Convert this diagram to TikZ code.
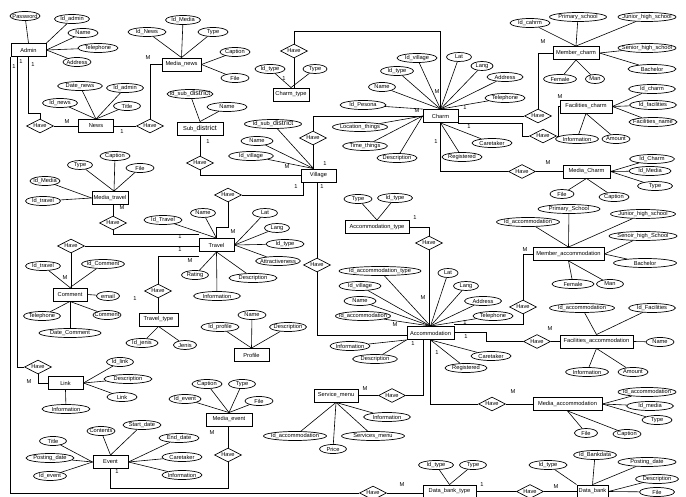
\documentclass[tikz,border=0pt]{standalone}
\usepackage{fontspec}
\setmainfont{Liberation Sans}
\usetikzlibrary{shapes.geometric}
\newcommand\bigd{\fontsize{7}{8}\selectfont}
\newcommand\AttrN[5]{\node[attr,minimum width=#4pt] (#1) at (#2,#3) {\makebox[0pt]{#5}};}
\newcommand\EntN[5]{\node[ent,minimum width=#4pt] (#1) at (#2,#3) {\makebox[0pt]{#5}};}
\newcommand\RelN[3]{\node[rel] (#1) at (#2,#3) {\makebox[0pt]{Have}};}
\newcommand\LblN[4]{\node[lbl] (#1) at (#2,#3) {#4};}
\begin{document}
\begin{tikzpicture}[x=1pt,y=-1pt,font=\fontsize{5.7}{6.5}\selectfont,
  attr/.style={draw,ellipse,line width=0.7pt,inner sep=0pt,minimum height=9pt},
  ent/.style={draw,rectangle,line width=0.9pt,inner sep=0pt,minimum height=13pt},
  rel/.style={draw,diamond,line width=0.7pt,inner sep=0pt,minimum width=27pt,minimum height=14pt},
  lbl/.style={inner sep=0pt},
  conn/.style={line width=0.6pt}]
\clip (0,0) rectangle (686,497);
\fill[white] (0,0) rectangle (686,497);
% entities
\EntN{admin}{28.5}{50}{35}{Admin}
\EntN{news}{96}{126}{35}{News}
\EntN{medianews}{181.5}{64.5}{39}{Media\_news}
\EntN{charmtype}{291}{94.5}{36}{Charm\_type}
\EntN{subdistrict}{200}{128.5}{46}{Sub\_{\bigd district}}
\EntN{village}{318.5}{175.5}{35}{Village}
\EntN{charm}{440.5}{116}{35}{Charm}
\EntN{membercharm}{576}{53}{46}{Member\_charm}
\EntN{facilitiescharm}{586}{106.5}{52}{Facilities\_charm}
\EntN{mediacharm}{586.5}{171.5}{47}{Media\_Charm}
\EntN{mediatravel}{110}{198}{36}{Media\_travel}
\EntN{travel}{216.5}{245}{35}{Travel}
\EntN{comment}{70}{294.5}{34}{Comment}
\EntN{traveltype}{158.5}{319.5}{39}{Travel\_type}
\EntN{profile}{251.5}{355}{35}{Profile}
\EntN{acctype}{377}{227}{64}{Accommodation\_type}
\EntN{acc}{430.5}{333}{47}{Accommodation}
\EntN{memberacc}{568.5}{254}{71}{Member\_accommodation}
\EntN{facacc}{596.5}{341.5}{73}{Facilities\_accommodation}
\EntN{servicemenu}{336}{395.5}{44}{Service\_menu}
\EntN{mediaacc}{567.5}{404}{69}{Media\_accommodation}
\EntN{link}{65.5}{383}{35}{Link}
\EntN{event}{110.5}{462}{35}{Event}
\EntN{mediaevent}{229}{419.5}{46}{Media\_event}
\EntN{dbtype}{449.5}{491.5}{53}{Data\_bank\_type}
\EntN{databank}{592.5}{491.5}{31}{Data\_bank}
% relationships
\RelN{hn}{40}{126}
\RelN{hmn}{150}{126}
\RelN{hct}{294}{51}
\RelN{hsd}{200}{163}
\RelN{hvc}{313}{138}
\RelN{hmc}{538}{116}
\RelN{hfc}{543}{136}
\RelN{hmch}{522}{171.5}
\RelN{hmt}{113}{223}
\RelN{htv}{228}{195}
\RelN{hcm}{71}{246}
\RelN{htt}{158}{291}
\RelN{hat}{429}{243}
\RelN{hva}{317}{265}
\RelN{hma}{523}{307}
\RelN{hfa}{537}{341.5}
\RelN{hsm}{392}{395.5}
\RelN{hmac}{492}{404}
\RelN{hlk}{38}{367}
\RelN{hme}{228}{455}
\RelN{hdbt}{373}{493}
\RelN{hdb}{530}{491.5}
% attributes
\AttrN{apw}{25}{16}{30}{Password}
\AttrN{aida}{72}{19}{35}{Id\_admin}
\AttrN{aname}{83}{33}{30}{Name}
\AttrN{atel}{98}{48}{40}{Telephone}
\AttrN{aaddr}{77}{62}{28}{Address}
\AttrN{ndate}{80}{86}{45}{Date\_news}
\AttrN{nida}{125}{88}{37}{Id\_admin}
\AttrN{nidn}{60}{103}{35}{Id\_news}
\AttrN{ntitle}{127}{106}{27}{Title}
\AttrN{mnidn}{147}{32}{38}{Id\_News}
\AttrN{mnidm}{183}{20}{35}{Id\_Media}
\AttrN{mntype}{213}{32}{30}{Type}
\AttrN{mncap}{235}{52}{30}{Caption}
\AttrN{mnfile}{235}{78}{28}{File}
\AttrN{ctid}{270}{69}{30}{Id\_type}
\AttrN{cttype}{315}{69}{24}{Type}
\AttrN{sdid}{190}{94}{46}{Id\_sub\_{\bigd district}}
\AttrN{sdname}{227}{107}{40}{Name}
\AttrN{vidsd}{273}{124}{57}{Id\_sub\_{\bigd district}}
\AttrN{vname}{257}{141}{32}{Name}
\AttrN{vid}{251}{156}{45}{Id\_village}
\AttrN{cidv}{417}{58}{40}{Id\_village}
\AttrN{clat}{459}{57}{25}{Lat}
\AttrN{cidt}{397}{71}{33}{Id\_type}
\AttrN{clang}{482}{66}{22}{Lang}
\AttrN{caddr}{505}{77}{36}{Address}
\AttrN{cname}{382}{87}{27}{Name}
\AttrN{ctel}{505}{98}{40}{Telephone}
\AttrN{cidp}{363}{105}{46}{Id\_Pesona}
\AttrN{cloc}{360}{127}{55}{Location\_things}
\AttrN{ctime}{365}{146}{45}{Time\_things}
\AttrN{cdesc}{397}{158}{40}{Description}
\AttrN{ccare}{492}{143}{40}{Caretaker}
\AttrN{creg}{462}{157}{40}{Registered}
\AttrN{mcid}{530}{23}{40}{Id\_cahrm}
\AttrN{mcps}{578}{17}{57}{Primary\_school}
\AttrN{mcjh}{647}{17}{58}{Junior\_high\_school}
\AttrN{mcsh}{647}{48}{58}{Senior\_high\_school}
\AttrN{mcba}{652}{69}{48}{Bachelor}
\AttrN{mcfe}{560}{79}{33}{Female}
\AttrN{mcma}{595}{79}{19}{Man}
\AttrN{fcidc}{652}{89}{47}{Id\_charm}
\AttrN{fcidf}{653}{105}{47}{Id\_facilities}
\AttrN{fcname}{653}{122}{48}{Facilities\_name}
\AttrN{fcinfo}{577}{139}{43}{Information}
\AttrN{fcam}{616}{139}{28}{Amount}
\AttrN{mchidc}{652}{159}{45}{Id\_Charm}
\AttrN{mchidm}{650}{171}{42}{Id\_Media}
\AttrN{mchtype}{655}{186}{35}{Type}
\AttrN{mchfile}{562}{194}{24}{File}
\AttrN{mchcap}{614}{197}{30}{Caption}
\AttrN{mttype}{80}{165}{25}{Type}
\AttrN{mtcap}{115}{156}{30}{Caption}
\AttrN{mtfile}{140}{168}{28}{File}
\AttrN{mtidm}{45}{181}{30}{Id\_Media}
\AttrN{mtidt}{43}{201}{35}{Id\_travel}
\AttrN{tid}{163}{220}{38}{Id\_Travel}
\AttrN{tname}{203}{213}{25}{Name}
\AttrN{tlat}{265}{213}{25}{Lat}
\AttrN{tlang}{277}{228}{25}{Lang}
\AttrN{tidt}{285}{244}{38}{Id\_type}
\AttrN{tattr}{278}{261}{45}{Attractiveness}
\AttrN{trat}{195}{275}{27}{Rating}
\AttrN{tdesc}{253}{278}{48}{Description}
\AttrN{tinfo}{217}{296}{47}{Information}
\AttrN{cmidt}{43}{266}{35}{Id\_travel}
\AttrN{cmidc}{103}{264}{43}{Id\_Comment}
\AttrN{cmmail}{108}{296}{23}{email}
\AttrN{cmtel}{42}{316}{37}{Telephone}
\AttrN{cmcom}{107}{315}{28}{Comment}
\AttrN{cmdate}{70}{333}{62}{Date\_Comment}
\AttrN{ttid}{142}{343}{32}{Id\_jenis}
\AttrN{ttj}{185}{345}{23}{Jenis}
\AttrN{pid}{220}{327}{38}{Id\_profile}
\AttrN{pname}{252}{315}{28}{Name}
\AttrN{pdesc}{288}{327}{37}{Description}
\AttrN{attype}{358}{199}{28}{Type}
\AttrN{atid}{395}{198}{35}{Id\_type}
\AttrN{acidt}{380}{271}{82}{Id\_accommodation\_type}
\AttrN{acidv}{360}{286}{42}{Id\_village}
\AttrN{acname}{360}{301}{32}{Name}
\AttrN{acid}{363}{316}{55}{Id\_accommodation}
\AttrN{aclat}{448}{273}{20}{Lat}
\AttrN{aclang}{466}{286}{25}{Lang}
\AttrN{acaddr}{483}{301}{37}{Address}
\AttrN{actel}{493}{316}{40}{Telephone}
\AttrN{acinfo}{350}{346}{40}{Information}
\AttrN{acdesc}{375}{359}{45}{Description}
\AttrN{accare}{491}{356}{40}{Caretaker}
\AttrN{acreg}{466}{368}{42}{Registered}
\AttrN{maid}{528}{222}{63}{Id\_accommodation}
\AttrN{maps}{569}{209}{62}{Primary\_School}
\AttrN{majh}{643}{214}{65}{Junior\_high\_school}
\AttrN{mash}{643}{236}{68}{Senoir\_high\_School}
\AttrN{maba}{645}{263}{63}{Bachelor}
\AttrN{mafe}{573}{284}{42}{Female}
\AttrN{mama}{610}{284}{27}{Man}
\AttrN{faid}{582}{308}{65}{Id\_accommodation}
\AttrN{faidf}{652}{308}{47}{Id\_Facilities}
\AttrN{faname}{660}{342}{28}{Name}
\AttrN{fainfo}{587}{372}{43}{Information}
\AttrN{faam}{633}{372}{30}{Amount}
\AttrN{smid}{295}{436}{63}{Id\_accommodation}
\AttrN{smprice}{333}{449}{27}{Price}
\AttrN{sminfo}{387}{417}{47}{Information}
\AttrN{smsm}{373}{436}{63}{Services\_menu}
\AttrN{macid}{647}{392}{58}{Id\_accommodation}
\AttrN{macidm}{650}{406}{47}{Id\_media}
\AttrN{mactype}{657}{420}{30}{Type}
\AttrN{macfile}{586}{433}{23}{File}
\AttrN{maccap}{627}{434}{28}{Caption}
\AttrN{lkid}{120}{362}{27}{Id\_link}
\AttrN{lkdesc}{128}{379}{48}{Description}
\AttrN{lklink}{122}{397}{30}{Link}
\AttrN{lkinfo}{66}{409}{48}{Information}
\AttrN{evtitle}{53}{441}{27}{Title}
\AttrN{evpd}{50}{458}{48}{Posting\_date}
\AttrN{evid}{50}{476}{33}{Id\_event}
\AttrN{evcont}{101}{431}{28}{Contents}
\AttrN{evsd}{142}{425}{38}{Start\_date}
\AttrN{eved}{179}{438}{40}{End\_date}
\AttrN{evcare}{182}{457}{40}{Caretaker}
\AttrN{evinfo}{182}{475}{40}{Information}
\AttrN{mecap}{207}{384}{30}{Caption}
\AttrN{metype}{242}{384}{27}{Type}
\AttrN{meid}{185}{399}{32}{Id\_event}
\AttrN{mefile}{259}{401}{28}{File}
\AttrN{dbtid}{436}{465}{35}{Id\_type}
\AttrN{dbttype}{473}{465}{27}{Type}
\AttrN{dbidt}{548}{465}{38}{Id\_type}
\AttrN{dbidb}{595}{455}{43}{Id\_Bankdata}
\AttrN{dbpd}{647}{462}{58}{Posting\_date}
\AttrN{dbdesc}{657}{479}{43}{Description}
\AttrN{dbfile}{657}{492}{35}{File}
% attribute links
\foreach \a/\b in {apw/admin.north,aida/admin.north east,aname/admin.east,atel/admin.east,aaddr/admin.east,
  ndate/news.north,nida/news.north,nidn/news.north,ntitle/news.north,
  mnidn/medianews.north,mnidm/medianews.north,mntype/medianews.north,mncap/medianews.east,mnfile/medianews.east,
  ctid/charmtype.north,cttype/charmtype.north,sdid/subdistrict.north,sdname/subdistrict.north,
  cidv/charm.north,clat/charm.north,cidt/charm.north,clang/charm.north,caddr/charm.north,cname/charm.north,ctel/charm.north,cidp/charm.north west,
  cloc/charm.west,ctime/charm.west,cdesc/charm.west,ccare/charm.south,creg/charm.south,
  mcid/membercharm.north,mcps/membercharm.north,mcjh/membercharm.north,mcsh/membercharm.east,mcba/membercharm.east,mcfe/membercharm.south,mcma/membercharm.south,
  fcidc/facilitiescharm.east,fcidf/facilitiescharm.east,fcname/facilitiescharm.east,fcinfo/facilitiescharm.south,fcam/facilitiescharm.south,
  mchidc/mediacharm.east,mchidm/mediacharm.east,mchtype/mediacharm.east,mchfile/mediacharm.south,mchcap/mediacharm.south,
  mtidm/mediatravel.west,mtidt/mediatravel.west,
  tid/travel.north,tname/travel.north,tlat/travel.east,tlang/travel.east,tidt/travel.east,tattr/travel.east,trat/travel.south,tdesc/travel.south,tinfo/travel.south,
  cmidt/comment.north,cmidc/comment.north,cmmail/comment.east,cmtel/comment.south,cmcom/comment.south,cmdate/comment.south,
  ttid/traveltype.south,ttj/traveltype.south,pid/profile.north,pname/profile.north,pdesc/profile.north,
  attype/acctype.north,atid/acctype.north,
  acidt/acc.north,acidv/acc.north,acname/acc.north,acid/acc.north,aclat/acc.north,aclang/acc.north,acaddr/acc.north,actel/acc.north,
  acinfo/acc.south west,acdesc/acc.south west,accare/acc.south,acreg/acc.south,
  maid/memberacc.north,maps/memberacc.north,majh/memberacc.north,mash/memberacc.east,maba/memberacc.east,mafe/memberacc.south,mama/memberacc.south,
  faid/facacc.north,faidf/facacc.north,faname/facacc.east,fainfo/facacc.south,faam/facacc.south,
  smid/servicemenu.south,smprice/servicemenu.south,sminfo/servicemenu.south,smsm/servicemenu.south,
  macid/mediaacc.east,macidm/mediaacc.east,mactype/mediaacc.east,macfile/mediaacc.south,maccap/mediaacc.south,
  lkid/link.east,lkdesc/link.east,lklink/link.east,lkinfo/link.south,
  evtitle/event.west,evpd/event.west,evid/event.west,evcont/event.north,evsd/event.north,eved/event.east,evcare/event.east,evinfo/event.east,
  mecap/mediaevent.north,metype/mediaevent.north,meid/mediaevent.north,mefile/mediaevent.north,
  dbtid/dbtype.north,dbttype/dbtype.north,dbidt/databank.north west,dbidb/databank.north,dbpd/databank.north,dbdesc/databank.east,dbfile/databank.east}
  {\draw[conn] (\a) -- (\b);}
\foreach \a in {vidsd,vname,vid} {\draw[conn] (\a) -- ([xshift=-5pt]village.north);}
\foreach \a in {mttype,mtcap,mtfile} {\draw[conn] (\a) -- ([xshift=4pt]mediatravel.north);}
% relationship connectors
\draw[conn] (admin.south) -- ++(0,56.5) -| (hn.north);
\draw[conn] (hn.east) -- (news.west);
\draw[conn] (news.east) -- (hmn.west);
\draw[conn] (hmn.north) |- (medianews.west);
\draw[conn] (hct.south) -- (hct.south |- charmtype.north);
\draw[conn] (hct.north) -- ++(0,-12) -| (charm.north);
\draw[conn] (subdistrict.south) -- (hsd.north);
\draw[conn] (hsd.south) |- (village.west);
\draw[conn] (hvc.south) -- (hvc.south |- village.north);
\draw[conn] (hvc.north) |- (charm.west);
\draw[conn] (charm.east) -- (hmc.west);
\draw[conn] (charm.south east) -- ++(64,0) |- (hfc.west);
\draw[conn] (hmc.north) |- (membercharm.west);
\draw[conn] (hfc.east) -- ++(1,0) |- (facilitiescharm.west);
\draw[conn] (charm.south) |- (hmch.west);
\draw[conn] (hmch.east) -- (mediacharm.west);
\draw[conn] (hmt.north |- mediatravel.south) -- (hmt.north);
\draw[conn] (hmt.south) |- ([yshift=4pt]travel.north west);
\draw[conn] (travel.north) -- ++(0,-11) -| (htv.south);
\draw[conn] (htv.east) -| ([xshift=-15pt]village.south);
\draw[conn] (hcm.south) -- (hcm.south |- comment.north);
\draw[conn] (hcm.east) -- (hcm.east -| travel.west);
\draw[conn] (htt.south) -- (htt.south |- traveltype.north);
\draw[conn] (htt.north) |- ([yshift=-4pt]travel.south west);
\draw[conn] (hva.north |- village.south) -- (hva.north);
\draw[conn] (hva.south) |- ([yshift=-2pt]acc.west);
\draw[conn] (acctype.east) -| (hat.north);
\draw[conn] (hat.south) -- (hat.south |- acc.north);
\draw[conn] ([yshift=2pt]acc.north east) -| (hma.south);
\draw[conn] ([yshift=1pt]acc.east) -- ++(32,0) |- (hfa.west);
\draw[conn] (acc.south) |- (hmac.west);
\draw[conn] ([xshift=-7pt]acc.south) |- (hsm.east);
\draw[conn] (hsm.west) -- (servicemenu.east);
\draw[conn] (hmac.east) -- (mediaacc.west);
\draw[conn] (hfa.east) -- (facacc.west);
\draw[conn] (hma.north) |- (memberacc.west);
\draw[conn] ([xshift=-11.5pt]admin.south) |- (hlk.west);
\draw[conn] (hlk.south) |- (link.west);
\draw[conn] (admin.south west) |- (hdbt.west);
\draw[conn] (hdbt.east) -- (hdbt.east -| dbtype.west);
\draw[conn] (dbtype.east) -- (hdb.west);
\draw[conn] (hdb.east) -- (databank.west);
\draw[conn] (event.south) -- ++(0,19) -| (hme.south);
\draw[conn] (hme.north |- mediaevent.south) -- (hme.north);
% cardinality labels
\LblN{l1}{67}{122}{M}
\LblN{l2}{122}{132}{1}
\LblN{l3}{148}{58}{M}
\LblN{l4}{284}{79}{1}
\LblN{l5}{437}{92}{M}
\LblN{l6}{208}{142}{1}
\LblN{l7}{287}{167}{M}
\LblN{l8}{325}{164}{1}
\LblN{l9}{417}{111}{M}
\LblN{l10}{465}{108}{1}
\LblN{l11}{469}{127}{1}
\LblN{l12}{543}{42}{M}
\LblN{l13}{560}{97}{M}
\LblN{l14}{436}{142}{1}
\LblN{l15}{548}{163}{M}
\LblN{l16}{122}{208}{M}
\LblN{l17}{180}{237}{1}
\LblN{l18}{233}{232}{M}
\LblN{l19}{296}{187}{1}
\LblN{l20}{65}{278}{M}
\LblN{l21}{180}{250}{1}
\LblN{l22}{135}{299}{1}
\LblN{l23}{190}{261}{M}
\LblN{l24}{322}{187}{1}
\LblN{l25}{395}{325}{M}
\LblN{l26}{415}{218}{1}
\LblN{l27}{423}{298}{M}
\LblN{l28}{465}{323}{1}
\LblN{l29}{525}{250}{M}
\LblN{l30}{466}{337}{1}
\LblN{l31}{550}{329}{M}
\LblN{l32}{437}{353}{1}
\LblN{l33}{513}{392}{M}
\LblN{l34}{413}{344}{1}
\LblN{l35}{365}{389}{M}
\LblN{l36}{14}{67}{1}
\LblN{l37}{21}{62}{1}
\LblN{l38}{33}{65}{1}
\LblN{l39}{29}{382}{M}
\LblN{l40}{402}{485}{M}
\LblN{l41}{482}{485}{1}
\LblN{l42}{556}{487}{M}
\LblN{l43}{117}{472}{1}
\LblN{l44}{212}{433}{M}
\end{tikzpicture}
\end{document}
